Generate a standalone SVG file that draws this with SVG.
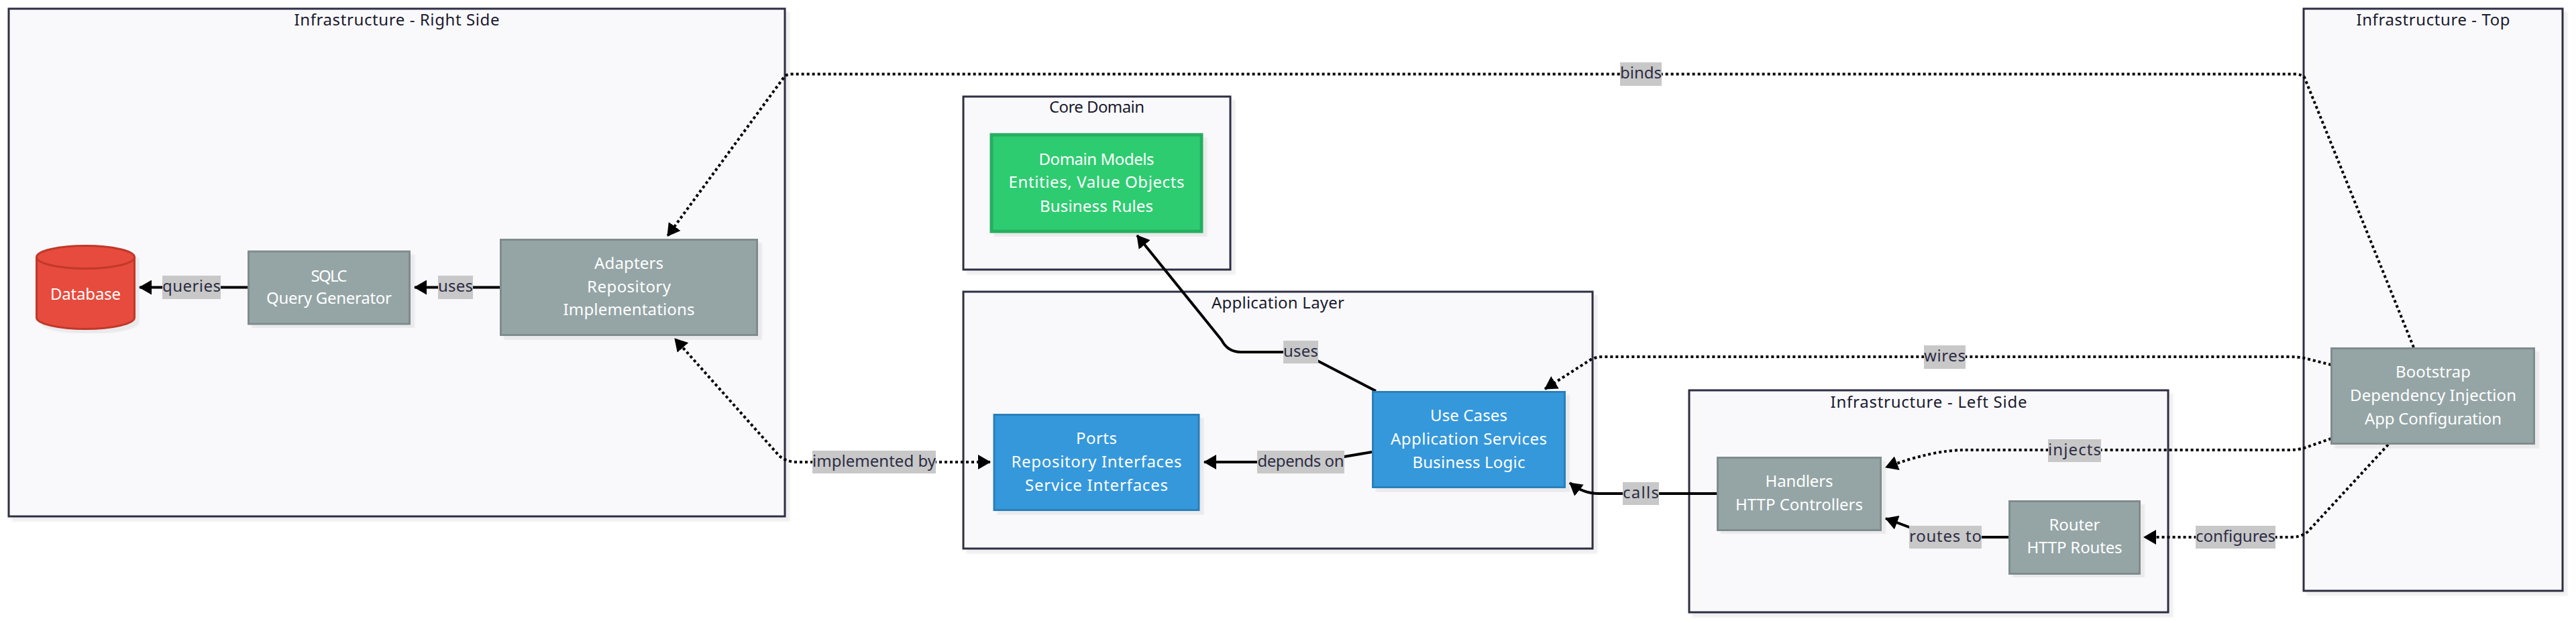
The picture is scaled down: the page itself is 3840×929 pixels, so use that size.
<svg xmlns="http://www.w3.org/2000/svg" width="3840" height="929" viewBox="0 0 3840 929">
<style>
text{font-family:"Noto Sans","Liberation Sans",sans-serif;font-size:24px;text-anchor:middle}
.c{fill:#f9f9fb;stroke:#2d2d44;stroke-width:3;filter:url(#s)}
.t{fill:#1a1a2e}
.g{fill:#95a5a6;stroke:#7f8c8d;stroke-width:3;filter:url(#s)}
.b{fill:#3498db;stroke:#2980b9;stroke-width:3;filter:url(#s)}
.n{fill:#2ecc71;stroke:#27ae60;stroke-width:5;filter:url(#s)}
.d{fill:#e74c3c;stroke:#c0392b;stroke-width:3}
.w{fill:#fff}
.e{fill:none;stroke:#000;stroke-width:4}
.o{stroke-dasharray:4 4}
.lb{fill:#c8c8c8}
.l{fill:#2d2d44}
</style>
<defs>
<filter id="s" x="-5%" y="-5%" width="110%" height="110%"><feDropShadow dx="6" dy="6" stdDeviation="1" flood-color="#000" flood-opacity="0.06"/></filter>
<marker id="a" viewBox="0 0 19 22" refX="18" refY="11" markerWidth="19" markerHeight="22" orient="auto-start-reverse" markerUnits="userSpaceOnUse"><path d="M0 0L19 11L0 22z" fill="#000"/></marker>
</defs>
<g id="cluster-right"><rect class="c" x="13" y="13" width="1157" height="757"/><text class="t" x="591.5" y="38" textLength="306">Infrastructure - Right Side</text></g>
<g id="cluster-core"><rect class="c" x="1436" y="144" width="398" height="258"/><text class="t" x="1635" y="168" textLength="142">Core Domain</text></g>
<g id="cluster-app"><rect class="c" x="1436" y="435" width="938" height="383"/><text class="t" x="1905" y="460" textLength="198">Application Layer</text></g>
<g id="cluster-left"><rect class="c" x="2518" y="582" width="714" height="331"/><text class="t" x="2875" y="607.500" textLength="293">Infrastructure - Left Side</text></g>
<g id="cluster-top"><rect class="c" x="3434" y="13" width="386" height="868"/><text class="t" x="3627" y="38" textLength="229">Infrastructure - Top</text></g>
<g id="edges">
<path class="e" d="M369 428.5H208" marker-end="url(#a)"/>
<path class="e" d="M745 428.5H618" marker-end="url(#a)"/>
<path class="e" d="M2051 583L1966 539L1940 525H1850Q1830 525 1821 507L1695 351" marker-end="url(#a)"/>
<path class="e" d="M2045 674L2004 681Q1985 689 1960 689H1795" marker-end="url(#a)"/>
<path class="e" d="M2559 736H2383Q2360 736 2340 720" marker-end="url(#a)"/>
<path class="e" d="M2994 801H2954L2846 786L2811 773" marker-end="url(#a)"/>
<path class="e o" d="M3598 518L3435 115Q3430 110.500 3420 110.500H1180Q1172 110.500 1168 116L995 352" marker-end="url(#a)"/>
<path class="e o" d="M3475 544L3435 534Q3425 532 3410 532H2390Q2378 532 2370 537L2303 580" marker-end="url(#a)"/>
<path class="e o" d="M3475 654L3435 668Q3425 671 3410 671H2930Q2880 671 2811 697" marker-end="url(#a)"/>
<path class="e o" d="M3560 663L3440 793Q3430 801 3415 801H3196" marker-end="url(#a)"/>
<path class="e o" d="M1476 689H1190Q1170 689 1160 678L1006 505" marker-start="url(#a)" marker-end="url(#a)"/>
</g>
<g id="edge-labels">
<rect class="lb" x="242" y="411" width="87" height="35"/><text class="l" x="285.500" y="435" textLength="87">queries</text>
<rect class="lb" x="653" y="411" width="52" height="35"/><text class="l" x="679" y="435" textLength="52">uses</text>
<rect class="lb" x="1913" y="508" width="52" height="34"/><text class="l" x="1939" y="532" textLength="52">uses</text>
<rect class="lb" x="1874" y="672" width="130" height="34"/><text class="l" x="1939" y="696" textLength="129">depends on</text>
<rect class="lb" x="1211" y="672" width="184" height="34"/><text class="l" x="1303" y="696" textLength="184">implemented by</text>
<rect class="lb" x="2415" y="93" width="62" height="35"/><text class="l" x="2446" y="117" textLength="62">binds</text>
<rect class="lb" x="2868" y="515" width="62" height="35"/><text class="l" x="2899" y="539" textLength="62">wires</text>
<rect class="lb" x="3053" y="655" width="79" height="34"/><text class="l" x="3092.500" y="679" textLength="79">injects</text>
<rect class="lb" x="2419" y="719" width="54" height="34"/><text class="l" x="2446" y="743" textLength="54">calls</text>
<rect class="lb" x="2846" y="784" width="108" height="34"/><text class="l" x="2900" y="808" textLength="108">routes to</text>
<rect class="lb" x="3273" y="784" width="119" height="34"/><text class="l" x="3332.500" y="808" textLength="119">configures</text>
</g>
<g id="database"><g filter="url(#s)"><path class="d" d="M54.500 383.500A73 17 0 0 1 200.500 383.500V473.500A73 17 0 0 1 54.500 473.500Z"/></g><path class="d" style="fill:none" d="M54.500 383.500A73 17 0 0 0 200.500 383.500"/><text class="w" x="127.500" y="447" textLength="105">Database</text></g>
<g id="sqlc"><rect class="g" x="370.500" y="375" width="240" height="108"/><text class="w" x="490.500" y="419.500" textLength="54">SQLC</text><text class="w" x="490.500" y="453" textLength="187">Query Generator</text></g>
<g id="adapters"><rect class="g" x="746.500" y="357.500" width="382" height="142"/><text class="w" x="937.500" y="401" textLength="103">Adapters</text><text class="w" x="937.500" y="436" textLength="125">Repository</text><text class="w" x="937.500" y="470" textLength="196">Implementations</text></g>
<g id="domain"><rect class="n" x="1478" y="201" width="313" height="144"/><text class="w" x="1634.500" y="246" textLength="172">Domain Models</text><text class="w" x="1634.500" y="280" textLength="262">Entities, Value Objects</text><text class="w" x="1634.500" y="316" textLength="169">Business Rules</text></g>
<g id="ports"><rect class="b" x="1482" y="618.500" width="305" height="142"/><text class="w" x="1634.500" y="662" textLength="61">Ports</text><text class="w" x="1634.500" y="697" textLength="254">Repository Interfaces</text><text class="w" x="1634.500" y="732" textLength="213">Service Interfaces</text></g>
<g id="usecases"><rect class="b" x="2046.500" y="584.500" width="286" height="142"/><text class="w" x="2189.500" y="628" textLength="115">Use Cases</text><text class="w" x="2189.500" y="663" textLength="233">Application Services</text><text class="w" x="2189.500" y="697.500" textLength="168">Business Logic</text></g>
<g id="handlers"><rect class="g" x="2560.500" y="682.500" width="243" height="108"/><text class="w" x="2682" y="726" textLength="101">Handlers</text><text class="w" x="2682" y="761" textLength="190">HTTP Controllers</text></g>
<g id="router"><rect class="g" x="2995.500" y="747.500" width="194" height="108"/><text class="w" x="3092.500" y="791" textLength="76">Router</text><text class="w" x="3092.500" y="825" textLength="142">HTTP Routes</text></g>
<g id="bootstrap"><rect class="g" x="3475.500" y="519.500" width="302" height="142"/><text class="w" x="3627" y="563" textLength="112">Bootstrap</text><text class="w" x="3627" y="598" textLength="248">Dependency Injection</text><text class="w" x="3627" y="633" textLength="204">App Configuration</text></g>
</svg>
